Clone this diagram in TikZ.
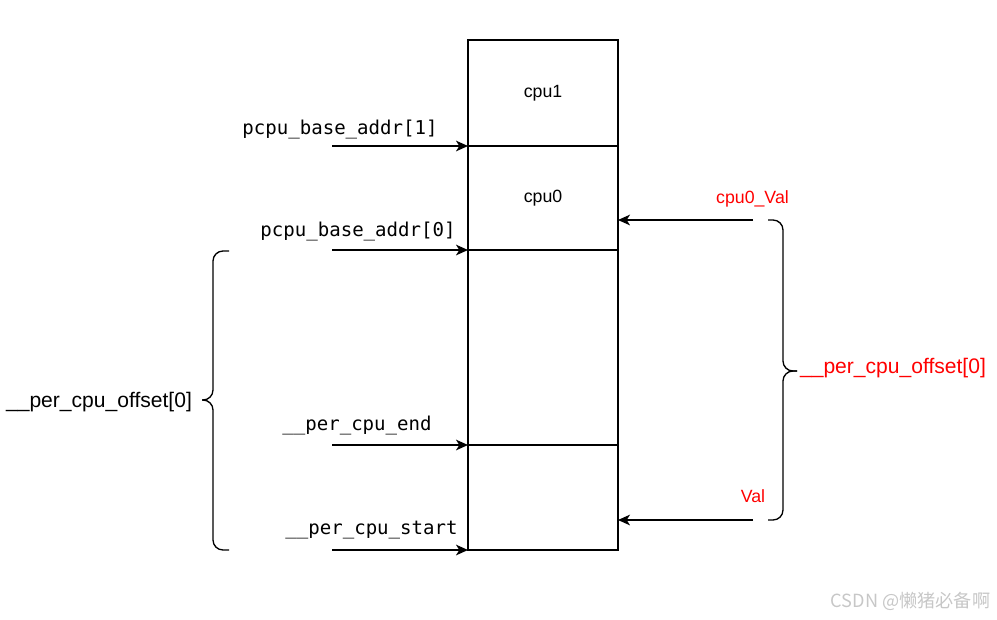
\documentclass[tikz,border=0pt]{standalone}
\usepackage{fontspec}
\setmainfont{Liberation Sans}
\newfontfamily\codefont{DejaVu Sans Mono}
\newfontfamily\cjkfont{Noto Sans CJK SC}
\usetikzlibrary{arrows.meta,positioning}

\tikzset{every picture/.style={line width=1pt}}
\tikzset{
  cell/.style={draw, rectangle, inner sep=0pt, outer sep=0pt, minimum width=112.5pt, font=\fontsize{13.3}{16}\selectfont},
  ptr/.style={-{Stealth[length=9pt,width=8pt,inset=2.5pt]}},
  codelabel/.style={anchor=base, inner sep=0.75pt, font=\codefont\fontsize{14.3}{17}\selectfont},
  vallabel/.style={anchor=base, inner sep=0.75pt, text=red, font=\fontsize{13.3}{16}\selectfont},
  offlabel/.style={anchor=base, inner sep=0.75pt, font=\fontsize{15.8}{19}\selectfont},
  bracebar/.style={rounded corners=7.5pt},
}

\begin{document}
\begin{tikzpicture}[x=0.75pt,y=0.75pt,yscale=-1,xscale=1]
    \useasboundingbox (0,0) rectangle (997,619);

    %Shape: Rectangle cells of the per-cpu area
    \node[cell, minimum height=79.5pt] (cpu1) at (543,93) {cpu1};
    \node[cell, minimum height=78pt, below=0pt of cpu1] (cpu0) {cpu0};
    \node[cell, minimum height=146.25pt, below=0pt of cpu0] (mid) {};
    \node[cell, minimum height=78.75pt, below=0pt of mid] (low) {};

    %Straight Lines: pointers from the left
    \coordinate (a1) at (332,146);
    \coordinate (a0) at (332,250);
    \coordinate (ae) at (332,445);
    \coordinate (as) at (332,550);
    \draw[ptr] (a1) -- (a1 -| cpu1.south west);
    \draw[ptr] (a0) -- (a0 -| cpu0.south west);
    \draw[ptr] (ae) -- (ae -| mid.south west);
    \draw[ptr] (as) -- (as -| low.south west);

    %Straight Lines: pointers from the right
    \coordinate (v0) at (753,220);
    \coordinate (v1) at (753,520);
    \draw[ptr] (v0) -- (v0 -| cpu0.east);
    \draw[ptr] (v1) -- (v1 -| low.east);

    %Shape: Left Brace
    \draw[bracebar] (229,251) -- (213,251) -- (213,400) -- (202,400);
    \draw[bracebar] (202,400) -- (213,400) -- (213,550) -- (229,550);
    %Shape: Right Brace
    \draw[bracebar] (768,220) -- (783,220) -- (783,371) -- (797,371);
    \draw[bracebar] (797,371) -- (783,371) -- (783,520) -- (768,520);

    % Text Node
    \node[codelabel] (lb1) at (340,134) {pcpu\_base\_addr[1]};
    % Text Node
    \node[codelabel] (lb0) at (358,236) {pcpu\_base\_addr[0]};
    % Text Node
    \node[codelabel] (lend) at (357,430) {\_\_per\_cpu\_end};
    % Text Node
    \node[codelabel] (lstart) at (371.5,534) {\_\_per\_cpu\_start};
    % Text Node
    \node[vallabel] (lv0) at (752.5,203) {cpu0\_Val};
    % Text Node
    \node[vallabel] (lv1) at (753,502) {Val};
    % Text Node
    \node[offlabel] (loffl) at (99,407) {\_\_per\_cpu\_offset[0]};
    % Text Node
    \node[offlabel, text=red] (loffr) at (893,373) {\_\_per\_cpu\_offset[0]};
    % Text Node
    \node[anchor=base, inner sep=0.75pt, text=black!22, font=\cjkfont\fontsize{13.6}{16}\selectfont] (mark) at (910.5,607) {CSDN @懒猪必备啊};

\end{tikzpicture}
\end{document}
